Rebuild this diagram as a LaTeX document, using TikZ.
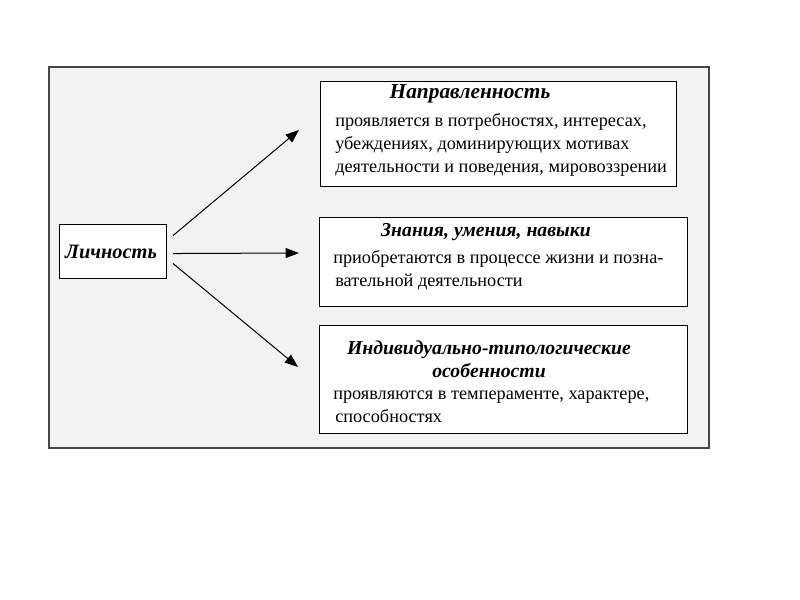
\documentclass[tikz,border=0pt]{standalone}
\usepackage{fontspec}
\setmainfont{Liberation Serif}
\usetikzlibrary{arrows.meta,positioning,calc}
\definecolor{panelgray}{RGB}{242,242,242}
\definecolor{framegray}{RGB}{70,70,70}

\begin{document}
\begin{tikzpicture}[x=0.75pt, y=-0.75pt,
    box/.style={draw=black, fill=white, line width=0.8pt, inner sep=0pt, anchor=north west},
    head/.style={font=\fontsize{14.8}{17}\selectfont\bfseries\itshape, inner sep=0pt, align=center},
    body/.style={font=\fontsize{13.7}{17.25}\selectfont, inner sep=0pt, align=left, anchor=west},
    arr/.style={-{Triangle[length=10pt, width=7.5pt]}, line width=0.75pt}]
    \useasboundingbox (0,0) rectangle (800,600);
    % Panel
    \draw[framegray, fill=panelgray, line width=1.2pt] (49,67) rectangle (709,448);
    % Boxes
    \node[box, minimum width=80.25pt, minimum height=40.5pt] (lichn) at (59,224) {};
    \node[box, minimum width=267pt, minimum height=78.75pt] (napr) at (320,81) {};
    \node[box, minimum width=276pt, minimum height=66.75pt] (znan) at (319,217) {};
    \node[box, minimum width=276pt, minimum height=81pt] (indiv) at (319,325) {};
    % Texts
    \node[head, font=\fontsize{15.3}{17}\selectfont\bfseries\itshape] (lichnT) at (111,252) {Личность};
    \node[head, font=\fontsize{16}{17}\selectfont\bfseries\itshape] (naprT) at (470,94) {Направленность};
    \node[body] (naprB) at (335,145) {проявляется в потребностях, интересах,\\убеждениях, доминирующих мотивах\\деятельности и поведения, мировоззрении};
    \node[head] (znanT) at (486,232) {Знания, умения, навыки};
    \node[body] (znanB) at (333,270.5) {приобретаются в процессе жизни и позна-\\\hspace{1.5pt}вательной деятельности};
    \node[head] (indivT) at (489,359) {Индивидуально-типологические\\особенности};
    \node[body] (indivB) at (333,406.5) {проявляются в темпераменте, характере,\\\hspace{1.5pt}способностях};
    % Arrows
    \coordinate (tipA) at (299,130);
    \coordinate (tipB) at (299,253);
    \coordinate (tipC) at (298,367);
    \draw[arr] ([shift={(6,-16)}]lichn.east) -- (tipA);
    \draw[arr] ([shift={(6,2)}]lichn.east) -- (tipB);
    \draw[arr] ([shift={(6,12)}]lichn.east) -- (tipC);
\end{tikzpicture}
\end{document}
